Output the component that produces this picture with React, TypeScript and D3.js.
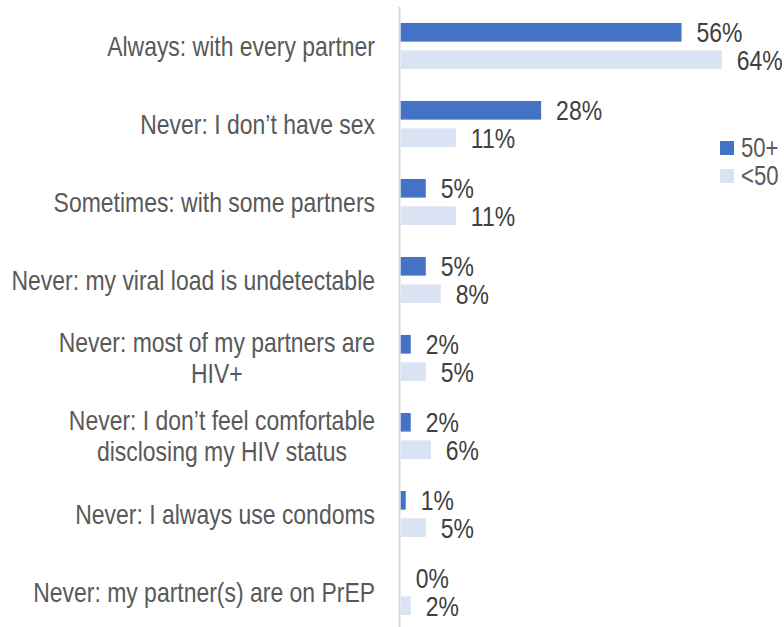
import React, { useEffect, useRef } from "react";
import * as d3 from "d3";

const categories: string[][] = [
  ["Always: with every partner"],
  ["Never: I don\u2019t have sex"],
  ["Sometimes: with some partners"],
  ["Never: my viral load is undetectable"],
  ["Never: most of my partners are", "HIV+"],
  ["Never: I don\u2019t feel comfortable", "disclosing my HIV status"],
  ["Never: I always use condoms"],
  ["Never: my partner(s) are on PrEP"],
];
const seriesNames = ["50+", "<50"];
const values50plus = [56, 28, 5, 5, 2, 2, 1, 0];
const valuesUnder50 = [64, 11, 11, 8, 5, 6, 5, 2];
const seriesColors = ["#4472C4", "#DAE3F3"];

const W = 784;
const H = 627;
const FONT = "'Liberation Sans', Arial, sans-serif";
const SX = 0.82;

export default function App() {
  const ref = useRef<SVGSVGElement>(null);
  useEffect(() => {
    const svg = d3.select(ref.current);
    svg.selectAll("*").remove();

    const addText = (
      tx: number, ty: number, str: string, anchor: string, size: number, fill: string
    ) => {
      const g = svg.append("g").attr("transform", `translate(${tx},${ty}) scale(${SX},1)`);
      const t = g.append("text")
        .attr("x", 0).attr("y", 0).attr("dy", "0.35em")
        .attr("text-anchor", anchor)
        .attr("font-family", FONT)
        .attr("font-size", size)
        .attr("fill", fill)
        .text(str);
      return { g, t };
    };

    const keys = categories.map((_, i) => String(i));
    const y = d3.scaleBand<string>().domain(keys).range([7, 631]).paddingInner(0.41).paddingOuter(0.205);
    const yi = d3.scaleBand<string>().domain(seriesNames).range([0, y.bandwidth()]).paddingInner(0.32);
    const x = d3.scaleLinear().domain([0, 100]).range([400.7, 902.2]);
    const series = [values50plus, valuesUnder50];

    // axis line
    svg.append("line")
      .attr("x1", 399.5).attr("x2", 399.5).attr("y1", 7).attr("y2", 627)
      .attr("stroke", "#d9d9d9").attr("stroke-width", 2);

    const labelRight = 375;
    categories.forEach((lines, i) => {
      const cy = (y(keys[i]) as number) + y.bandwidth() / 2;
      const lh = 31;
      const items = lines.map((ln, j) =>
        addText(0, cy + (j - (lines.length - 1) / 2) * lh, ln, "middle", 28, "#595959")
      );
      const widths = items.map((it) => (it.t.node() as SVGTextElement).getComputedTextLength() * SX);
      const maxW = Math.max(...widths);
      const cx = labelRight - maxW / 2;
      items.forEach((it, j) =>
        it.g.attr("transform", `translate(${cx},${cy + (j - (lines.length - 1) / 2) * lh}) scale(${SX},1)`)
      );

      series.forEach((vals, s) => {
        const by = (y(keys[i]) as number) + (yi(seriesNames[s]) as number);
        svg.append("rect")
          .attr("x", x(0)).attr("y", by)
          .attr("width", x(vals[i]) - x(0)).attr("height", yi.bandwidth())
          .attr("fill", seriesColors[s]);
        addText(x(vals[i]) + 15, by + yi.bandwidth() / 2, vals[i] + "%", "start", 28, "#404040");
      });
    });

    // legend
    seriesNames.forEach((name, s) => {
      const ly = 141 + s * 28;
      svg.append("rect").attr("x", 720).attr("y", ly).attr("width", 14).attr("height", 14).attr("fill", seriesColors[s]);
      addText(741, ly + 7, name, "start", 27, "#595959");
    });
  }, []);
  return (
    <svg ref={ref} width={W} height={H} style={{ position: "absolute", left: 0, top: 0, background: "#fff" }} />
  );
}
